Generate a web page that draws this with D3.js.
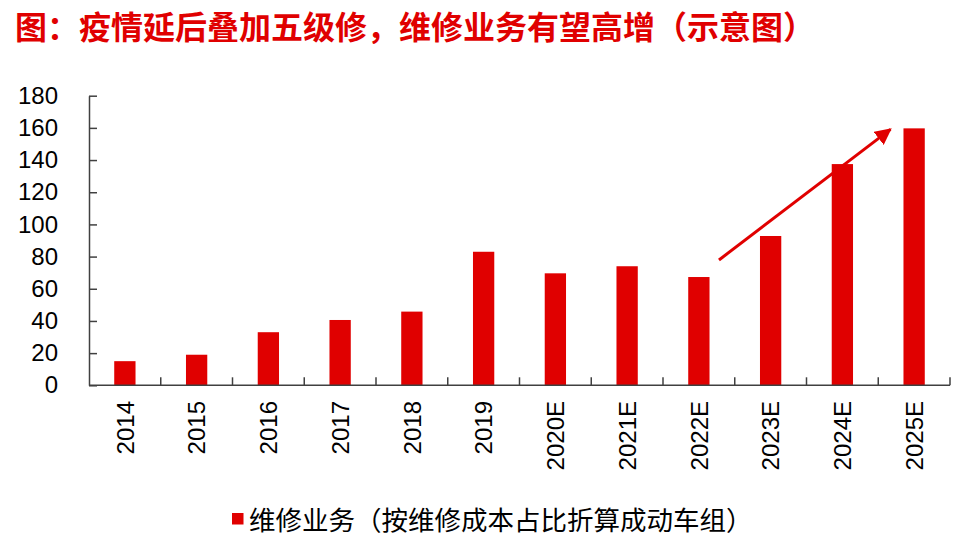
<!DOCTYPE html>
<html><head><meta charset="utf-8">
<script src="https://cdn.jsdelivr.net/npm/d3@7"></script>
<style>body{margin:0;background:#fff}svg{display:block}</style>
</head><body><svg id="c" width="977" height="553"></svg>
<script>
const categories = ["2014","2015","2016","2017","2018","2019","2020E","2021E","2022E","2023E","2024E","2025E"];
const values = [15, 19, 33, 40.6, 45.8, 83, 69.6, 74, 67.3, 92.8, 137.5, 159.7];
const yTicks = [0,20,40,60,80,100,120,140,160,180];
const seriesName = "维修业务（按维修成本占比折算成动车组）";
const title = "图：疫情延后叠加五级修，维修业务有望高增（示意图）";
// arrow annotation in data units: [category-index position, value]
const arrowFrom = [8.78, 77.9];
const arrowTo = [11.17, 159.1];

const red = "#E00000";
const svg = d3.select("#c");
const L = 89, R = 950, T = 95.7, B = 385.3;

const x = d3.scaleBand().domain(categories).range([L, R]).padding(0);
const xi = d3.scaleLinear().domain([0, categories.length]).range([L, R]);
const y = d3.scaleLinear().domain([0, 180]).range([B, T]);

svg.append("text").attr("x", 15).attr("y", 38.5)
  .attr("font-family", "'Noto Sans CJK SC', sans-serif").attr("font-weight", 700)
  .attr("font-size", 32).attr("fill", red).text(title);

// bars
const bw = 21.3;
svg.append("g").selectAll("rect").data(values).join("rect")
  .attr("x", (d,i) => x(categories[i]) + x.bandwidth()/2 - bw/2)
  .attr("y", d => y(d)).attr("width", bw).attr("height", d => B - y(d))
  .attr("fill", red);

// y axis
const ya = svg.append("g").attr("transform", `translate(${L},0)`)
  .call(d3.axisLeft(y).tickValues(yTicks).tickSize(-8).tickPadding(31).tickSizeOuter(0));
ya.select(".domain").attr("stroke", "#404040").attr("stroke-width", 1.5);
ya.selectAll(".tick line").attr("stroke", "#404040").attr("stroke-width", 1.5);
ya.selectAll("text").attr("font-family", "'Liberation Sans', Arial, sans-serif")
  .attr("font-size", 24).attr("fill", "#000");

// x axis line
svg.append("line").attr("x1", L).attr("x2", R).attr("y1", B).attr("y2", B)
  .attr("stroke", "#404040").attr("stroke-width", 1.5);
const bounds = categories.map(c => x(c)).concat([x(categories[categories.length-1]) + x.bandwidth()]);
svg.append("g").selectAll("line").data(bounds.slice(1)).join("line")
  .attr("x1", d => d).attr("x2", d => d).attr("y1", B).attr("y2", B - 8)
  .attr("stroke", "#404040").attr("stroke-width", 1.5);
svg.append("g").selectAll("text").data(categories).join("text")
  .attr("transform", c => `translate(${x(c) + x.bandwidth()/2},401) rotate(-90)`)
  .attr("text-anchor", "end").attr("dy", "0.36em")
  .attr("font-family", "'Liberation Sans', Arial, sans-serif").attr("font-size", 24)
  .attr("fill", "#000").text(c => c);

// arrow
const defs = svg.append("defs");
defs.append("marker").attr("id", "ah").attr("viewBox", "0 0 10 10")
  .attr("refX", 9).attr("refY", 5).attr("markerWidth", 5.5).attr("markerHeight", 5.5)
  .attr("markerUnits", "strokeWidth").attr("orient", "auto")
  .append("path").attr("d", "M0,0 L10,5 L0,10 Z").attr("fill", red);
svg.append("line")
  .attr("x1", xi(arrowFrom[0])).attr("y1", y(arrowFrom[1]))
  .attr("x2", xi(arrowTo[0])).attr("y2", y(arrowTo[1]))
  .attr("stroke", red).attr("stroke-width", 3).attr("marker-end", "url(#ah)");

// legend
svg.append("rect").attr("x", 232).attr("y", 513).attr("width", 11.5).attr("height", 11.5).attr("fill", red);
svg.append("text").attr("x", 249).attr("y", 529.5)
  .attr("font-family", "'Noto Sans CJK SC', sans-serif").attr("font-size", 26.5)
  .attr("fill", "#000").text(seriesName);
</script></body></html>
